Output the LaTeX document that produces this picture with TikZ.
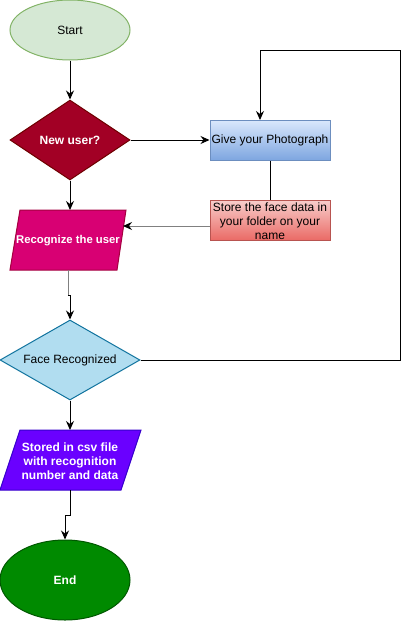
\documentclass[tikz,border=0pt]{standalone}
\usepackage{fontspec}
\setmainfont{Liberation Sans}
\usetikzlibrary{shapes.geometric,arrows.meta}
\definecolor{startfill}{HTML}{D5E8D4}
\definecolor{startline}{HTML}{82B366}
\definecolor{newfill}{HTML}{A20025}
\definecolor{newline}{HTML}{6F0000}
\definecolor{photoA}{HTML}{DAE8FC}
\definecolor{photoB}{HTML}{7EA6E0}
\definecolor{photoline}{HTML}{6C8EBF}
\definecolor{storeA}{HTML}{F8CECC}
\definecolor{storeB}{HTML}{EA6B66}
\definecolor{storeline}{HTML}{B85450}
\definecolor{recfill}{HTML}{D80073}
\definecolor{recline}{HTML}{A50040}
\definecolor{facefill}{HTML}{B1DDF0}
\definecolor{faceline}{HTML}{10739E}
\definecolor{csvfill}{HTML}{6A00FF}
\definecolor{csvline}{HTML}{3700CC}
\definecolor{endfill}{HTML}{008A00}
\definecolor{endline}{HTML}{005700}
\tikzset{
  lbl/.style={font=\fontsize{12}{14}\selectfont, align=center, inner sep=0pt},
  wlbl/.style={lbl, text=white, font=\fontsize{12}{14}\selectfont\bfseries},
  conn/.style={line width=1pt, draw=black},
  arr/.style={conn, -{Stealth[length=9pt,width=8pt,inset=3pt,color=black]}},
  ell/.style={ellipse, draw, line width=1pt, inner sep=0pt},
  dia/.style={diamond, draw, line width=1pt, inner sep=0pt},
  rectbox/.style={rectangle, draw, line width=1pt, inner sep=0pt, minimum width=120pt}
}
\begin{document}
\begin{tikzpicture}[x=1pt,y=-1pt]
\useasboundingbox (0,0) rectangle (409,621);
% Start
\node[ell, fill=startfill, draw=startline, minimum width=120pt, minimum height=60pt] (start) at (70,30) {};
\node[lbl] (startT) at (70,30.5) {Start};
% New user?
\node[dia, fill=newfill, draw=newline, minimum width=120pt, minimum height=80pt] (newu) at (70,140) {};
\node[wlbl] (newuT) at (70,140.5) {New user?};
% Give your Photograph
\node[rectbox, top color=photoA, bottom color=photoB, draw=photoline, minimum height=40pt] (photo) at (270,140) {};
\node[lbl] (photoT) at (270,140.5) {Give your Photograph};
% Store box
\node[rectbox, top color=storeA, bottom color=storeB, draw=storeline, minimum height=40pt] (store) at (270,220) {};
\node[lbl] (storeT) at (270,221) {Store the face data in\\your folder on your\\name};
% Recognize the user parallelogram
\filldraw[fill=recfill, draw=recline, line width=1pt] (20,210) -- (126,210) -- (117,270) -- (10,270) -- cycle;
\node[wlbl, font=\fontsize{11.3}{14}\selectfont\bfseries] (recog) at (68,240.5) {Recognize the user};
\coordinate (recTop) at (70,210);
\coordinate (recRight) at (123,226);
\coordinate (recBot) at (68,270);
% Face Recognized
\node[dia, fill=facefill, draw=faceline, minimum width=140pt, minimum height=80pt] (face) at (70,360) {};
\node[lbl] (faceT) at (70,360.5) {Face Recognized};
% CSV parallelogram
\filldraw[fill=csvfill, draw=csvline, line width=1pt] (20,430) -- (141,430) -- (121,490) -- (0,490) -- cycle;
\node[wlbl] (csv) at (70,461) {Stored in csv file\\with recognition\\number and data};
\coordinate (csvTop) at (70,430);
\coordinate (csvBot) at (70,490);
% End
\node[ell, fill=endfill, draw=endline, minimum width=130pt, minimum height=80pt] (endn) at (65,580) {};
\node[wlbl] (endT) at (65,580.5) {End};
% connectors
\draw[arr] (start.south) -- (newu.north);
\draw[arr] (newu.east) -- (photo.west);
\draw[arr] (newu.south) -- (recTop);
\draw[conn] (photo.south) -- (store.north);
\coordinate (storeL) at (210,226);
\draw[arr, draw=gray] (storeL) -- (recRight);
\coordinate (j1) at (68,295);
\coordinate (j2) at (70,295);
\draw[conn, draw=gray] (recBot) -- (j1);
\draw[arr] (j1) -- (j2) -- (face.north);
\draw[arr] (face.south) -- (csvTop);
\coordinate (k1) at (70,515);
\coordinate (k2) at (65,515);
\draw[arr] (csvBot) -- (k1) -- (k2) -- (endn.north);
\coordinate (l1) at (400,360);
\coordinate (l2) at (400,50);
\coordinate (l3) at (260,50);
\coordinate (photoIn) at (260,120);
\draw[arr] (face.east) -- (l1) -- (l2) -- (l3) -- (photoIn);
\end{tikzpicture}
\end{document}
